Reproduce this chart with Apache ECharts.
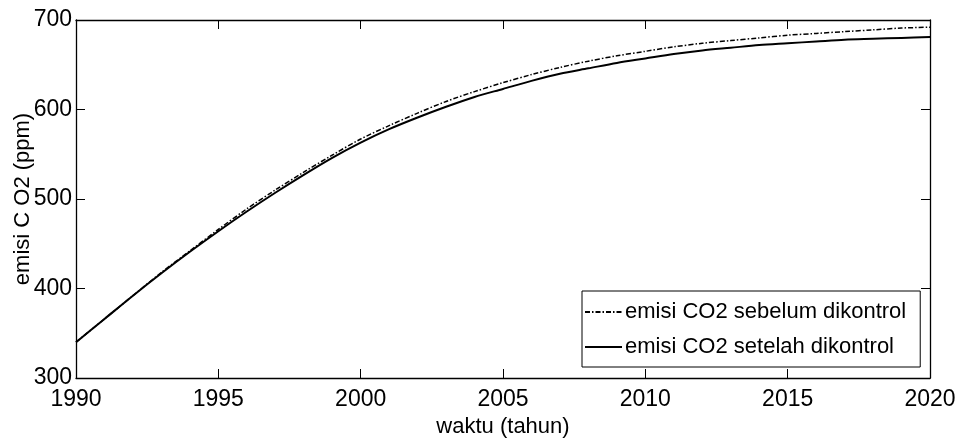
<!DOCTYPE html>
<html>
<head>
<meta charset="utf-8">
<script src="https://cdn.jsdelivr.net/npm/echarts@6/dist/echarts.min.js"></script>
<style>
  html, body { margin: 0; padding: 0; background: #fff; }
  #chart { width: 958px; height: 439px; }
</style>
</head>
<body>
<div id="chart"></div>
<script>
var years = [1990, 1991, 1992, 1993, 1994, 1995, 1996, 1997, 1998, 1999, 2000,
  2001, 2002, 2003, 2004, 2005, 2006, 2007, 2008, 2009, 2010,
  2011, 2012, 2013, 2014, 2015, 2016, 2017, 2018, 2019, 2020];
// emisi CO2 sebelum dikontrol (dash-dot)
var sebelum = [340, 366, 392, 418, 442, 466, 489, 510, 530, 549, 567,
  582, 596, 609, 620, 630, 639, 647, 654, 660, 665,
  670, 674, 677, 680, 683, 685, 687, 689, 691, 692];
// emisi CO2 setelah dikontrol (solid)
var setelah = [340, 366, 392, 417, 441, 464, 486, 507, 527, 546, 563,
  578, 591, 603, 614, 623, 632, 640, 646, 652, 657,
  662, 666, 669, 672, 674, 676, 678, 679, 680, 681];
var seriesNames = ['emisi CO2 sebelum dikontrol', 'emisi CO2 setelah dikontrol'];
var xTicks = [1990, 2020, 5];
var yTicks = [300, 700, 100];

var FONT = "'Liberation Sans', Arial, sans-serif";
var FS = 22;
var TICK_FS = 23;

function pairs(xs, ys) {
  var out = [];
  for (var i = 0; i < xs.length; i++) out.push([xs[i], ys[i]]);
  return out;
}

var chart = echarts.init(document.getElementById('chart'));

var axisLine = { show: true, lineStyle: { color: '#000', width: 1.3 } };
var tick = { show: true, inside: true, length: 9, lineStyle: { color: '#000', width: 1 } };

var option = {
  backgroundColor: '#fff',
  animation: false,
  textStyle: { fontFamily: FONT, color: '#000' },
  grid: { left: 76, right: 28, top: 20, bottom: 61, containLabel: false, outerBoundsMode: 'none' },
  legend: {
    orient: 'vertical',
    left: 582,
    top: 291,
    padding: [10, 14, 9, 2],
    itemGap: 13,
    itemWidth: 37,
    itemHeight: 14,
    borderColor: '#000',
    borderWidth: 1,
    backgroundColor: '#fff',
    itemStyle: { opacity: 0 },
    textStyle: { fontFamily: FONT, fontSize: FS, color: '#000', padding: [0, 0, 0, -2] },
    data: seriesNames
  },
  xAxis: [{
    type: 'value',
    min: xTicks[0], max: xTicks[1], interval: xTicks[2],
    name: 'waktu (tahun)',
    nameLocation: 'middle',
    nameGap: 38,
    nameMoveOverlap: false,
    nameTextStyle: { fontFamily: FONT, fontSize: FS, color: '#000' },
    axisLine: axisLine,
    axisTick: tick,
    splitLine: { show: false },
    axisLabel: {
      fontFamily: FONT, fontSize: TICK_FS, color: '#000', margin: 10,
      formatter: function (v) { return String(v); }
    }
  }, {
    type: 'value', position: 'top',
    min: xTicks[0], max: xTicks[1], interval: xTicks[2],
    axisLine: axisLine, axisTick: tick,
    axisLabel: { show: false }, splitLine: { show: false }
  }],
  yAxis: [{
    type: 'value',
    min: yTicks[0], max: yTicks[1], interval: yTicks[2],
    name: 'emisi C O2 (ppm)',
    nameLocation: 'middle',
    nameGap: 42,
    nameMoveOverlap: false,
    nameTextStyle: { fontFamily: FONT, fontSize: FS, color: '#000' },
    axisLine: axisLine,
    axisTick: tick,
    splitLine: { show: false },
    axisLabel: { fontFamily: FONT, fontSize: TICK_FS, color: '#000', margin: 4 }
  }, {
    type: 'value', position: 'right',
    min: yTicks[0], max: yTicks[1], interval: yTicks[2],
    axisLine: axisLine, axisTick: tick,
    axisLabel: { show: false }, splitLine: { show: false }
  }],
  series: [{
    name: seriesNames[0],
    type: 'line',
    showSymbol: false,
    symbol: 'none',
    smooth: 0.3,
    data: pairs(years, sebelum),
    itemStyle: { color: '#000' },
    lineStyle: { color: '#000', width: 1.5, type: [5, 2, 1.5, 2] },
    z: 3
  }, {
    name: seriesNames[1],
    type: 'line',
    showSymbol: false,
    symbol: 'none',
    smooth: 0.3,
    data: pairs(years, setelah),
    itemStyle: { color: '#000' },
    lineStyle: { color: '#000', width: 2 },
    z: 4
  }]
};

chart.setOption(option);
</script>
</body>
</html>
